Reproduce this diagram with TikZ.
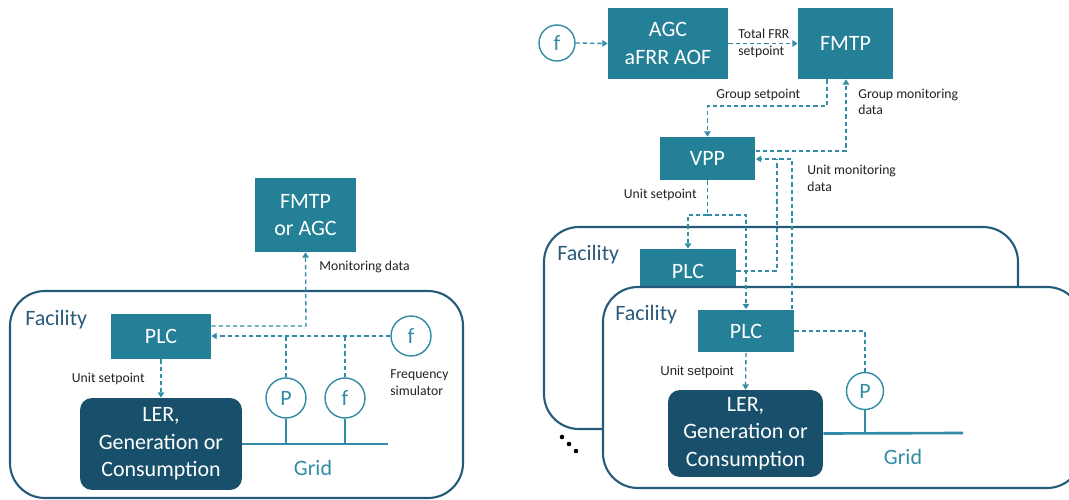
\documentclass[tikz,border=0pt]{standalone}
\usepackage{fontspec}
\setmainfont{Carlito}
\newfontfamily\arialfont{Liberation Sans}
\usetikzlibrary{arrows.meta}
\definecolor{boxteal}{HTML}{238096}
\definecolor{lernavy}{HTML}{184F6A}
\definecolor{facborder}{HTML}{255A78}
\definecolor{linkteal}{HTML}{328CA5}
\definecolor{factext}{HTML}{2B5B7C}
\definecolor{labeltext}{HTML}{222222}
\tikzset{
  box/.style={fill=boxteal, text=white, align=center, inner sep=0pt,
    font=\fontsize{12.5}{15.6}\selectfont},
  lerbox/.style={fill=lernavy, text=white, align=center, inner sep=0pt,
    rounded corners=0.24cm, font=\fontsize{12.5}{15.6}\selectfont},
  meter/.style={circle, draw=linkteal, line width=0.8pt, fill=white, inner sep=0pt,
    text=linkteal, font=\fontsize{12.5}{15}\selectfont},
  facility/.style={draw=facborder, line width=1.2pt, fill=white, rounded corners=0.7cm},
  faclabel/.style={anchor=west, text=factext, font=\fontsize{12.5}{15}\selectfont, inner sep=0pt},
  gridlabel/.style={text=linkteal, font=\fontsize{12.5}{15}\selectfont, inner sep=0pt},
  dl/.style={draw=linkteal, line width=0.75pt, dash pattern=on 2.4pt off 1.7pt},
  tip/.style={-{Triangle[length=3pt,width=3.6pt]}},
  solidl/.style={draw=linkteal, line width=0.8pt},
  gridline/.style={draw=linkteal, line width=1.5pt},
  lbl/.style={text=labeltext, inner sep=0pt, align=left, font=\fontsize{7.8}{9.4}\selectfont},
  dot/.style={circle, fill=black, inner sep=0pt, minimum size=2.6pt}
}
\begin{document}
\begin{tikzpicture}[x=0.02cm, y=-0.02cm]
\clip (0,0) rectangle (1069,500);
\fill[white] (0,0) rectangle (1069,500);

% ===== Left diagram =====
\draw[facility] (10,291) rectangle (463,498);
\node[faclabel] (facL) at (25,320) {Facility};
\node[box, minimum width=2.02cm, minimum height=1.48cm] (fmtpL) at (305.5,215) {FMTP\\or AGC};
\node[box, minimum width=2cm, minimum height=0.9cm] (plcL) at (161,336.5) {PLC};
\node[lerbox, minimum width=3.24cm, minimum height=1.84cm] (lerL) at (161,444) {LER,\\Generation or\\Consumption};
\node[meter, minimum size=0.8cm] (pL) at (286,398) {P};
\node[meter, minimum size=0.8cm] (fL) at (345,398) {f};
\node[meter, minimum size=0.8cm] (fsim) at (411,336) {f};
\coordinate (gridLend) at (388,444);
\coordinate (monL) at (306,326);

\draw[dl, tip] (plcL.east |- monL) -- (monL) -- (fmtpL.south);
\draw[dl, tip] (fsim.west) -- (plcL.east |- fsim);
\draw[dl] (pL.north) -- (pL.north |- fsim);
\draw[dl] (fL.north) -- (fL.north |- fsim);
\draw[dl, tip] (plcL.south) -- (lerL.north);
\draw[gridline] (lerL.east) -- (gridLend);
\draw[solidl] (pL.south) -- (pL.south |- gridLend);
\draw[solidl] (fL.south) -- (fL.south |- gridLend);

\node[lbl, anchor=west] (lmon) at (319,267) {Monitoring data};
\node[lbl, anchor=east] (lusL) at (145,379) {Unit setpoint};
\node[lbl, anchor=west] (lfs) at (390,382.5) {Frequency\\simulator};
\node[gridlabel] (gridL) at (313,468) {Grid};

% ===== Right diagram =====
\draw[facility] (544,227) rectangle (1018,429);
\node[faclabel] (facR1) at (557,255) {Facility};
\node[box, minimum width=1.92cm, minimum height=0.88cm] (plcR1) at (688,271) {PLC};
\draw[facility] (603,287) rectangle (1082,488);
\node[faclabel] (facR2) at (615,315) {Facility};
\node[box, minimum width=1.92cm, minimum height=0.86cm] (plcR2) at (746,331) {PLC};
\node[lerbox, minimum width=3.1cm, minimum height=1.74cm] (lerR) at (745.5,433.5) {LER,\\Generation or\\Consumption};
\node[meter, minimum size=0.74cm] (pR) at (865,391) {P};
\coordinate (gridRend) at (963,433);

\node[meter, minimum size=0.72cm] (fR) at (557,43) {f};
\node[box, minimum width=2.4cm, minimum height=1.42cm] (agc) at (668,43.5) {AGC\\aFRR AOF};
\node[box, minimum width=1.9cm, minimum height=1.42cm] (fmtpR) at (845.5,43.5) {FMTP};
\node[box, minimum width=1.92cm, minimum height=0.86cm] (vpp) at (707.5,158.5) {VPP};

\coordinate (gs) at (827,106);
\coordinate (gm) at (846,151);
\coordinate (um) at (792,159);
\coordinate (um1) at (777,271);
\coordinate (us) at (707,215);

\draw[dl, tip] (fR.east) -- (agc.west);
\draw[dl, tip] (agc.east) -- (fmtpR.west);
\draw[dl, tip] (fmtpR.south -| gs) -- (gs) -| (vpp.north);
\draw[dl, tip] (vpp.east |- gm) -- (gm) -- (fmtpR.south -| gm);
\draw[dl] (plcR1.east |- um1) -- (um1) -- (um1 |- um);
\draw[dl, tip] (plcR2.north -| um) -- (um) -- (vpp.east |- um);
\draw[dl] (vpp.south) -- (vpp.south |- us);
\draw[dl, tip] (vpp.south |- us) -| (plcR1.north);
\draw[dl, tip] (vpp.south |- us) -| (plcR2.north);
\draw[dl] (plcR2.east) -| (pR.north);
\draw[dl, tip] (plcR2.south) -- (lerR.north);
\draw[gridline] (lerR.east) -- (gridRend);
\draw[solidl] (pR.south) -- (pR.south |- gridRend);

\node[lbl, anchor=west] (ltfrr) at (738,43.5) {Total FRR\\setpoint};
\node[lbl, anchor=west] (lgs) at (716,95) {Group setpoint};
\node[lbl, anchor=west] (lgm) at (858,102) {Group monitoring\\data};
\node[lbl, anchor=west] (lum) at (807,178.5) {Unit monitoring\\data};
\node[lbl, anchor=east] (lusR1) at (697,195) {Unit setpoint};
\node[lbl, anchor=east, font=\arialfont\fontsize{7.5}{9}\selectfont] (lusR2) at (734,372) {Unit setpoint};
\node[gridlabel] (gridR) at (903,457) {Grid};

\node[dot] (d1) at (562,437) {};
\node[dot] (d2) at (569,444) {};
\node[dot] (d3) at (576,451) {};
\end{tikzpicture}
\end{document}
